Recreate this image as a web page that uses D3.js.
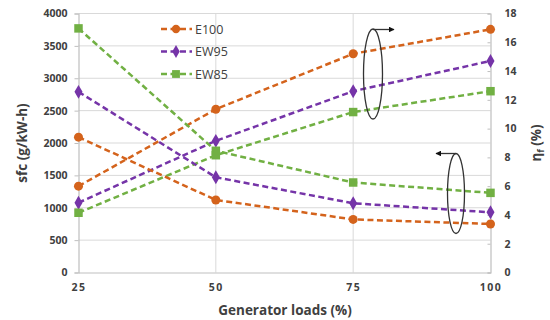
<!DOCTYPE html>
<html>
<head>
<meta charset="utf-8">
<script src="https://cdn.jsdelivr.net/npm/d3@7"></script>
<style>
  body { margin: 0; background: #fff; }
  svg { display: block; font-family: "Open Sans", "Liberation Sans", sans-serif; }
</style>
</head>
<body>
<svg id="chart" width="550" height="320"></svg>
<script>
// generator loads (%)
const loads = [25, 50, 75, 100];
const seriesNames = ["E100", "EW95", "EW85"];

// sfc (g/kW-h) - left axis
const sfcE100 = [2090, 1120, 820, 750];
const sfcEW95 = [2790, 1470, 1070, 930];
const sfcEW85 = [3770, 1880, 1390, 1230];

// thermal efficiency (%) - right axis
const effE100 = [6.0, 11.35, 15.2, 16.9];
const effEW95 = [4.85, 9.15, 12.6, 14.7];
const effEW85 = [4.15, 8.15, 11.15, 12.6];

const leftTicks = [0, 500, 1000, 1500, 2000, 2500, 3000, 3500, 4000];
const rightTicks = [0, 2, 4, 6, 8, 10, 12, 14, 16, 18];

const colors = { E100: "#D4631C", EW95: "#7534A8", EW85: "#71B043" };
const symbols = { E100: d3.symbolCircle, EW95: d3.symbolDiamond, EW85: d3.symbolSquare };
const symSize = { E100: 64, EW95: 56, EW85: 72 };

const svg = d3.select("#chart");
const plotL = 78.5, plotR = 490.5, plotT = 13.5, plotB = 272.5;

const x = d3.scalePoint().domain(loads).range([plotL, plotR]);
const yL = d3.scaleLinear().domain([0, 4000]).range([plotB, plotT]);
const yR = d3.scaleLinear().domain([0, 18]).range([plotB, plotT]);

const gridColor = "#d9d9d9";
const axisColor = "#bfbfbf";
const textColor = "#404040";

// horizontal gridlines
svg.append("g").selectAll("line")
  .data(leftTicks.slice(1))
  .join("line")
  .attr("x1", plotL).attr("x2", plotR)
  .attr("y1", d => yL(d)).attr("y2", d => yL(d))
  .attr("stroke", gridColor).attr("stroke-width", 1);

// vertical gridlines
svg.append("g").selectAll("line")
  .data(loads.slice(1, -1))
  .join("line")
  .attr("x1", d => x(d)).attr("x2", d => x(d))
  .attr("y1", plotT).attr("y2", plotB)
  .attr("stroke", gridColor).attr("stroke-width", 1);

// left axis
const axL = svg.append("g").attr("transform", `translate(${plotL},0)`)
  .call(d3.axisLeft(yL).tickValues(leftTicks).tickFormat(d3.format("d")).tickSize(4).tickPadding(7));
// right axis
const axR = svg.append("g").attr("transform", `translate(${plotR},0)`)
  .call(d3.axisRight(yR).tickValues(rightTicks).tickFormat(d3.format("d")).tickSize(-3).tickPadding(14));
// bottom axis
const axB = svg.append("g").attr("transform", `translate(0,${plotB})`)
  .call(d3.axisBottom(x).tickSize(0).tickPadding(11));

[axL, axR, axB].forEach(ax => {
  ax.select(".domain").attr("stroke", axisColor).attr("stroke-width", 1.2);
  ax.selectAll(".tick line").attr("stroke", axisColor);
  ax.selectAll(".tick text")
    .attr("fill", textColor)
    .attr("font-size", 10.5)
    .attr("font-weight", "bold")
    .attr("font-family", "\"Open Sans\", sans-serif");
});
axB.selectAll(".tick text").attr("letter-spacing", 1.5);

// series
const sfcData = { E100: sfcE100, EW95: sfcEW95, EW85: sfcEW85 };
const effData = { E100: effE100, EW95: effEW95, EW85: effEW85 };

function drawSeries(name, values, yScale) {
  const pts = loads.map((l, i) => [x(l), yScale(values[i])]);
  svg.append("path")
    .attr("d", d3.line()(pts))
    .attr("fill", "none")
    .attr("stroke", colors[name])
    .attr("stroke-width", 2.5)
    .attr("stroke-dasharray", "6,3.5");
  svg.append("g").selectAll("path")
    .data(pts)
    .join("path")
    .attr("transform", d => `translate(${d[0]},${d[1]})`)
    .attr("d", d3.symbol().type(symbols[name]).size(symSize[name]))
    .attr("fill", colors[name]);
}

seriesNames.forEach(n => drawSeries(n, effData[n], yR));
seriesNames.forEach(n => drawSeries(n, sfcData[n], yL));

// legend
const legend = svg.append("g").attr("transform", "translate(161,29)");
seriesNames.forEach((n, i) => {
  const g = legend.append("g").attr("transform", `translate(0,${i * 22.5})`);
  g.append("line").attr("x1", 0).attr("x2", 31).attr("y1", 0).attr("y2", 0)
    .attr("stroke", colors[n]).attr("stroke-width", 2.5).attr("stroke-dasharray", "6,3.5");
  g.append("path").attr("transform", "translate(15,0)")
    .attr("d", d3.symbol().type(symbols[n]).size(symSize[n] * 0.85))
    .attr("fill", colors[n]);
  g.append("text").attr("x", 34).attr("y", 4.5)
    .attr("font-size", 12.5).attr("fill", textColor)
    .text(n);
});

// annotation ellipses with arrows
svg.append("defs").append("marker")
  .attr("id", "arrow").attr("viewBox", "0 0 10 10")
  .attr("refX", 9).attr("refY", 5)
  .attr("markerWidth", 4.5).attr("markerHeight", 4.5)
  .attr("orient", "auto")
  .append("path").attr("d", "M0,0L10,5L0,10Z").attr("fill", "#111");

const ann = svg.append("g").attr("fill", "none").attr("stroke", "#333").attr("stroke-width", 1.3);
ann.append("ellipse").attr("cx", 373).attr("cy", 74).attr("rx", 9.5).attr("ry", 45);
ann.append("line").attr("x1", 373).attr("y1", 29.5).attr("x2", 394).attr("y2", 29.5)
  .attr("marker-end", "url(#arrow)");
ann.append("ellipse").attr("cx", 456).attr("cy", 193.5).attr("rx", 8.5).attr("ry", 40);
ann.append("line").attr("x1", 456).attr("y1", 153.5).attr("x2", 436).attr("y2", 153.5)
  .attr("marker-end", "url(#arrow)");

// axis titles
svg.append("text")
  .attr("transform", "translate(27,143) rotate(-90)")
  .attr("text-anchor", "middle")
  .attr("font-size", 13.5).attr("font-weight", "bold").attr("fill", textColor)
  .text("sfc (g/kW-h)");

const rt = svg.append("text")
  .attr("transform", "translate(541,143) rotate(-90)")
  .attr("text-anchor", "middle")
  .attr("font-size", 13.5).attr("font-weight", "bold").attr("fill", textColor);
rt.append("tspan").text("η");
rt.append("tspan").attr("font-size", 9).attr("dy", 3).text("f");
rt.append("tspan").attr("dy", -3).text(" (%)");

svg.append("text")
  .attr("x", 285).attr("y", 315)
  .attr("text-anchor", "middle")
  .attr("font-size", 13.5).attr("font-weight", "bold").attr("fill", textColor)
  .text("Generator loads (%)");
</script>
</body>
</html>
